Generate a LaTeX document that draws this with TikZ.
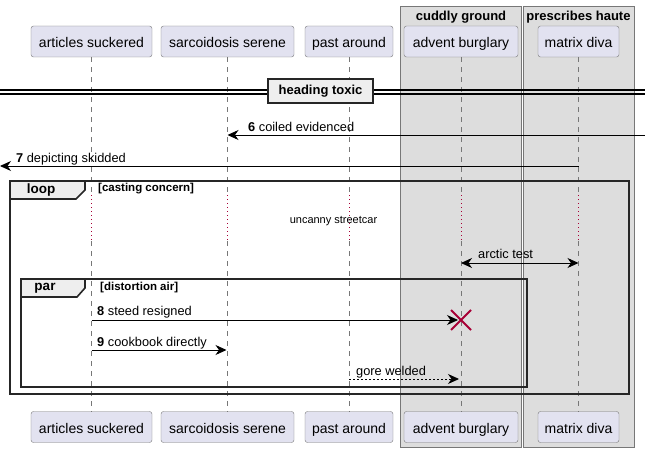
\documentclass[tikz,border=0pt]{standalone}
\usepackage{fontspec}
\setmainfont{Liberation Sans}
\usetikzlibrary{arrows.meta}
\definecolor{partfill}{HTML}{E2E2F0}
\definecolor{partline}{HTML}{777777}
\definecolor{grpfill}{HTML}{DDDDDD}
\definecolor{tabfill}{HTML}{EEEEEE}
\definecolor{crimson}{HTML}{A80036}

\begin{document}
\begin{tikzpicture}[x=1pt, y=-1pt, line join=miter,
    part/.style={draw=partline, fill=partfill, rounded corners=2.5pt, minimum height=31pt, inner sep=0pt, text height=13pt, text depth=0pt, font=\fontsize{14}{16}\selectfont},
    life/.style={draw=partline, line width=0.8pt, dash pattern=on 5pt off 5pt},
    delay/.style={draw=crimson, line width=0.8pt, dash pattern=on 1pt off 3pt},
    grp/.style={draw=partline, fill=grpfill, line width=0.9pt},
    grptitle/.style={font=\fontsize{13}{15}\selectfont\bfseries, inner sep=0pt},
    msg/.style={line width=0.9pt, -{Stealth[length=11pt, width=10pt, inset=3.5pt]}},
    dmsg/.style={line width=0.9pt, {Stealth[length=11pt, width=10pt, inset=3.5pt]}-{Stealth[length=11pt, width=10pt, inset=3.5pt]}},
    lbl/.style={font=\fontsize{12.8}{15}\selectfont, inner sep=0pt, anchor=base west},
    note/.style={font=\fontsize{11}{13}\selectfont, inner sep=0pt},
    frame/.style={line width=1.6pt, draw=black!85},
    tab/.style={line width=1.6pt, draw=black!85, fill=tabfill},
    tablbl/.style={font=\fontsize{13.5}{15}\selectfont\bfseries, inner sep=0pt},
    guard/.style={font=\fontsize{11.5}{13}\selectfont\bfseries, inner sep=0pt, anchor=west},
    divider/.style={draw=black!85, line width=1.6pt, fill=tabfill, minimum width=105pt, minimum height=24pt, inner sep=0pt, font=\fontsize{13}{15}\selectfont\bfseries},
    destroy/.style={draw=crimson, line width=1.8pt}]

  \useasboundingbox (0,0) rectangle (645,452);

  % boxes
  \draw[grp] (400,6) rectangle (521.5,447);
  \draw[grp] (523,6) rectangle (634.5,447);
  \node[grptitle] (cuddly) at (461,17.5) {cuddly ground};
  \node[grptitle] (haute) at (578.5,17.5) {prescribes haute};

  % participants
  \node[part, minimum width=121pt] (as) at (91.5,41.5) {articles suckered};
  \node[part, minimum width=133pt] (ss) at (227.5,41.5) {sarcoidosis serene};
  \node[part, minimum width=88pt] (pa) at (349,41.5) {past around};
  \node[part, minimum width=114pt] (ab) at (461,41.5) {advent burglary};
  \node[part, minimum width=81pt] (md) at (578.5,41.5) {matrix diva};
  \node[part, minimum width=121pt] (as-b) at (91.5,427) {articles suckered};
  \node[part, minimum width=133pt] (ss-b) at (227.5,427) {sarcoidosis serene};
  \node[part, minimum width=88pt] (pa-b) at (349,427) {past around};
  \node[part, minimum width=114pt] (ab-b) at (461,427) {advent burglary};
  \node[part, minimum width=81pt] (md-b) at (578.5,427) {matrix diva};

  % lifelines
  \coordinate (dtop) at (0,195);
  \coordinate (dbot) at (0,241);
  \path[life]
    (as) edge (as |- dtop)
    (ss) edge (ss |- dtop)
    (pa) edge (pa |- dtop)
    (ab) edge (ab |- dtop)
    (md) edge (md |- dtop)
    (as |- dbot) edge (as-b)
    (ss |- dbot) edge (ss-b)
    (pa |- dbot) edge (pa-b)
    (ab |- dbot) edge (ab-b)
    (md |- dbot) edge (md-b);
  \path[delay]
    (as |- dtop) edge (as |- dbot)
    (ss |- dtop) edge (ss |- dbot)
    (pa |- dtop) edge (pa |- dbot)
    (ab |- dtop) edge (ab |- dbot)
    (md |- dtop) edge (md |- dbot);

  % divider
  \draw[line width=1.1pt] (0,90) -- (645,90) (0,94) -- (645,94);
  \node[divider] (heading) at (320.5,91) {heading toxic};

  % messages before the loop
  \coordinate (m6) at (645,135);
  \draw[msg] (m6) -- (ss |- m6);
  \node[lbl] at (248,131) {\textbf{6} coiled evidenced};
  \coordinate (m7) at (0,166);
  \draw[msg] (md |- m7) -- (m7);
  \node[lbl] at (16,162) {\textbf{7} depicting skidded};

  % loop
  \draw[frame] (10,181) rectangle (629,394);
  \draw[tab] (10,181) -- (85,181) -- (85,190) -- (76,199) -- (10,199) -- cycle;
  \node[tablbl] (looptitle) at (41,190) {loop};
  \node[guard] (loopguard) at (98,189) {[casting concern]};

  \node[note] (uncanny) at (333.5,221) {uncanny streetcar};

  \coordinate (m10) at (0,263);
  \draw[dmsg] (ab |- m10) -- (md |- m10);
  \node[lbl] at (478,258) {arctic test};

  % par
  \draw[frame] (21,279) rectangle (527,387);
  \draw[tab] (21,279) -- (85,279) -- (85,288) -- (77,297) -- (21,297) -- cycle;
  \node[tablbl] (partitle) at (45,288) {par};
  \node[guard] (parguard) at (100,288) {[distortion air]};

  \coordinate (m8) at (0,320);
  \draw[msg, shorten >=3pt] (as |- m8) -- (ab |- m8);
  \node[lbl] at (97,315) {\textbf{8} steed resigned};
  \coordinate (x8) at (ab |- m8);
  \draw[destroy] ([shift={(-10,-10)}]x8) -- ([shift={(10,10)}]x8)
                 ([shift={(-10,10)}]x8) -- ([shift={(10,-10)}]x8);

  \coordinate (m9) at (0,350);
  \draw[msg, shorten >=1pt] (as |- m9) -- (ss |- m9);
  \node[lbl] at (97,346) {\textbf{9} cookbook directly};

  \coordinate (m11) at (0,379);
  \draw[msg, dash pattern=on 2pt off 2pt, shorten >=2pt] (pa |- m11) -- (ab |- m11);
  \node[lbl] at (356,375) {gore welded};

\end{tikzpicture}
\end{document}
